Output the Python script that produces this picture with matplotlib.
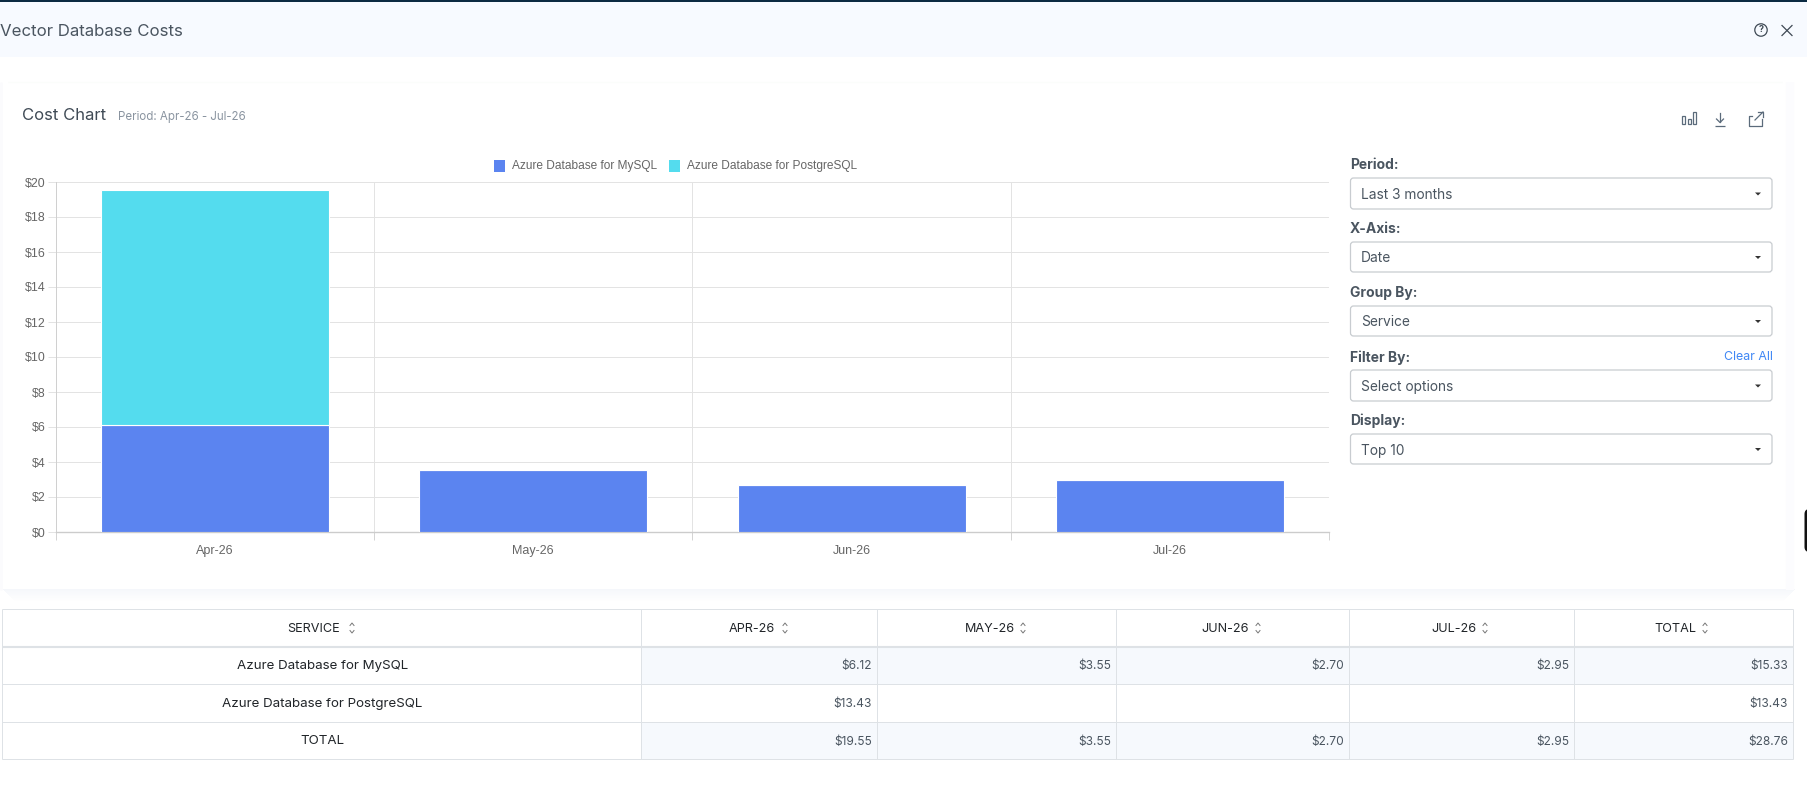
import matplotlib
matplotlib.use("Agg")
import matplotlib.pyplot as plt
from matplotlib.patches import Rectangle, FancyBboxPatch, Circle, Polygon

# ---- data ----
months = ["Apr-26", "May-26", "Jun-26", "Jul-26"]
mysql_costs = [6.12, 3.55, 2.70, 2.95]
postgres_costs = [13.43, 0, 0, 0]
series_names = ["Azure Database for MySQL", "Azure Database for PostgreSQL"]
y_ticks = [0, 2, 4, 6, 8, 10, 12, 14, 16, 18, 20]
table_headers = ["SERVICE", "APR-26", "MAY-26", "JUN-26", "JUL-26", "TOTAL"]
row_mysql = ["Azure Database for MySQL", "$6.12", "$3.55", "$2.70", "$2.95", "$15.33"]
row_postgres = ["Azure Database for PostgreSQL", "$13.43", "", "", "", "$13.43"]
row_total = ["TOTAL", "$19.55", "$3.55", "$2.70", "$2.95", "$28.76"]
dropdown_labels = ["Period:", "X-Axis:", "Group By:", "Filter By:", "Display:"]
dropdown_values = ["Last 3 months", "Date", "Service", "Select options", "Top 10"]

W, H = 1807, 800
UI = "Inter"
CHART = "Liberation Sans"
BLUE = "#5b84f0"
CYAN = "#54dcee"
HAIR = 0.72

fig = plt.figure(figsize=(W / 100, H / 100), dpi=100, facecolor="white")
ui = fig.add_axes([0, 0, 1, 1], zorder=0)
ui.set_xlim(0, W)
ui.set_ylim(H, 0)
ui.axis("off")


def rect(x0, y0, x1, y1, color, z=1, alpha=None):
    ui.add_patch(Rectangle((x0, y0), x1 - x0, y1 - y0, fc=color, ec="none", zorder=z, alpha=alpha))


def hline(x0, x1, y, color="#dee2e6", lw=HAIR, z=3):
    ui.plot([x0, x1], [y, y], color=color, lw=lw, zorder=z, solid_capstyle="butt")


def vline(x, y0, y1, color="#dee2e6", lw=HAIR, z=3):
    ui.plot([x, x], [y0, y1], color=color, lw=lw, zorder=z, solid_capstyle="butt")


def label(x, y, s, size, color, ha="left", weight="normal", family=UI):
    ui.text(x, y, s, fontsize=size, color=color, ha=ha, va="center", fontweight=weight,
            family=family, zorder=6)


# header band
rect(0, 0, W, 57, "#f7faff")
rect(0, 0, W, 1.5, "#0b2a42", z=2)
label(0, 31.5, "Vector Database Costs", 12.1, "#4a5560")

# help and close icons
ui.add_patch(Circle((1761, 30), 6.2, fc="none", ec="#3f4a55", lw=0.9, zorder=5))
label(1761, 30, "?", 6.5, "#3f4a55", ha="center", weight="bold")
ui.plot([1782, 1792], [25.5, 35.5], color="#3f4a55", lw=0.9, zorder=5)
ui.plot([1782, 1792], [35.5, 25.5], color="#3f4a55", lw=0.9, zorder=5)

# card shadow
for i in range(12):
    rect(3 + i, 589 + i, 1795 - i, 590 + i, "#eef2f9", alpha=0.55 * (1 - i / 12))
hline(8, 1782, 82, "#fbfdfb", 1.0)
vline(1790, 82, 590, "#fcfcfe", 6)
vline(1, 82, 590, "#fbfbfd", 2)

label(22, 116, "Cost Chart", 12.0, "#3f4a55")
label(118, 117, "Period: Apr-26 - Jul-26", 8.3, "#8a94a0")

# toolbar icons
ic = "#5b6b7b"
for x0, h in ((1684, 8), (1689.5, 5.5), (1695, 12)):
    ui.add_patch(Rectangle((x0 - 1.5, 124 - h), 3, h, fc="none", ec=ic, lw=0.9, zorder=5))
ui.plot([1720, 1720], [113, 122], color=ic, lw=0.9, zorder=5)
ui.plot([1716.5, 1720, 1723.5], [119, 122.5, 119], color=ic, lw=0.9, zorder=5)
hline(1715, 1725, 125.5, ic, 0.9, 5)
ui.plot([1752, 1749, 1749, 1762, 1762], [116, 116, 126, 126, 119], color=ic, lw=0.9, zorder=5)
ui.plot([1755, 1763], [120, 112], color=ic, lw=0.9, zorder=5)
ui.plot([1758, 1763, 1763], [112, 112, 117], color=ic, lw=0.9, zorder=5)

# legend
legend_x = [(494, 512), (669.5, 687)]
for (sx, tx), c, name in zip(legend_x, [BLUE, CYAN], series_names):
    rect(sx, 160, sx + 11, 172, c)
    label(tx, 165.5, name, 8.6, "#666666", family=CHART)

# dropdowns
label_y = [165, 229, 293.5, 358, 421]
box_y = [(178, 209), (242, 272), (306, 336), (370, 401), (434, 464)]
for lab, val, ly, (y0, y1) in zip(dropdown_labels, dropdown_values, label_y, box_y):
    label(1350, ly, lab, 10.0, "#4a5560", weight="bold")
    ui.add_patch(FancyBboxPatch((1350.5, y0), 421.5, y1 - y0, boxstyle="round,pad=0,rounding_size=3",
                                fc="white", ec="#c8ccd0", lw=0.9, zorder=3))
    label(1361, (y0 + y1) / 2 + 1.5, val, 9.9, "#4a5560")
    cy = (y0 + y1) / 2 + 0.5
    ui.add_patch(Polygon([[1755, cy - 1.5], [1761, cy - 1.5], [1758, cy + 1.5]], fc="#333333", ec="none", zorder=5))
label(1772.5, 357.5, "Clear All", 8.9, "#3f87f5", ha="right")

# black blob on the right edge
ui.add_patch(FancyBboxPatch((1804.5, 509), 10, 43, boxstyle="round,pad=0,rounding_size=5",
                            fc="#111111", ec="none", zorder=5))

# table
col_x = [2, 641, 877, 1116, 1349, 1574, 1793]
row_y = [609, 647, 684, 722, 759]
rect(col_x[1], row_y[1], col_x[-1], row_y[2], "#f6f9fd", z=1.5)
rect(col_x[1], row_y[3], col_x[-1], row_y[4], "#f6f9fd", z=1.5)
for y in (row_y[0], row_y[2], row_y[3], row_y[4]):
    hline(col_x[0], col_x[-1], y)
hline(col_x[0], col_x[-1], row_y[1], "#dee2e6", 1.5)
for x in col_x:
    vline(x, row_y[0], row_y[4])

head_cx = [314, 752, 989.5, 1225, 1454, 1675.5]
icon_x = [352, 785, 1023, 1258, 1485, 1705]
for head, cx, ix in zip(table_headers, head_cx, icon_x):
    label(cx, 629, head, 9.1, "#212529", ha="center")
    ui.plot([ix - 2, ix, ix + 2], [625.5, 623, 625.5], color="#777777", lw=0.7, zorder=5)
    ui.plot([ix - 2, ix, ix + 2], [630.5, 633, 630.5], color="#777777", lw=0.7, zorder=5)
table_rows = [row_mysql, row_postgres, row_total]
for r, row in enumerate(table_rows):
    cy = (row_y[r + 1] + row_y[r + 2]) / 2 + 1
    label((col_x[0] + col_x[1]) / 2 + 1, cy, row[0], 9.6, "#212529", ha="center")
    for c, val in enumerate(row[1:], start=1):
        if val:
            label(col_x[c + 1] - 5, cy, val, 8.6, "#4a5560", ha="right")

# chart
ax = fig.add_axes([55.5 / W, 1 - 532 / H, (1329.5 - 55.5) / W, 350 / H], zorder=2)
ax.patch.set_alpha(0)
pos = list(range(len(months)))
ax.bar(pos, mysql_costs, width=0.715, color=BLUE, edgecolor="white", linewidth=0.8, zorder=3)
ax.bar(pos, postgres_costs, width=0.715, bottom=mysql_costs, color=CYAN, edgecolor="white", linewidth=0.8, zorder=3)
ax.set_xlim(-0.5, 3.5)
ax.set_ylim(0, 20)
ax.set_yticks(y_ticks)
ax.set_yticklabels([f"${v}" for v in y_ticks], fontsize=8.9, color="#666666", family=CHART)
ax.set_xticks([0.5 + i - 1 for i in range(len(months) + 1)])
ax.set_xticklabels([])
ax.set_xticks(pos, minor=True)
ax.set_xticklabels(months, minor=True, fontsize=9.0, color="#666666", family=CHART)
ax.tick_params(axis="x", which="major", length=5.8, color="#d4d4d4", width=HAIR)
ax.tick_params(axis="x", which="minor", length=0, pad=9.5)
ax.tick_params(axis="y", length=5.8, color="#e3e3e3", width=HAIR, pad=1.5)
ax.grid(True, axis="both", which="major", color="#e3e3e3", lw=HAIR, zorder=0)
ax.set_axisbelow(True)
for s in ("top", "right"):
    ax.spines[s].set_visible(False)
ax.spines["left"].set_color("#d0d0d0")
ax.spines["bottom"].set_color("#cccccc")
ax.spines["left"].set_linewidth(HAIR)
ax.spines["bottom"].set_linewidth(1.0)

fig.savefig("out.png", dpi=100, facecolor="white")
